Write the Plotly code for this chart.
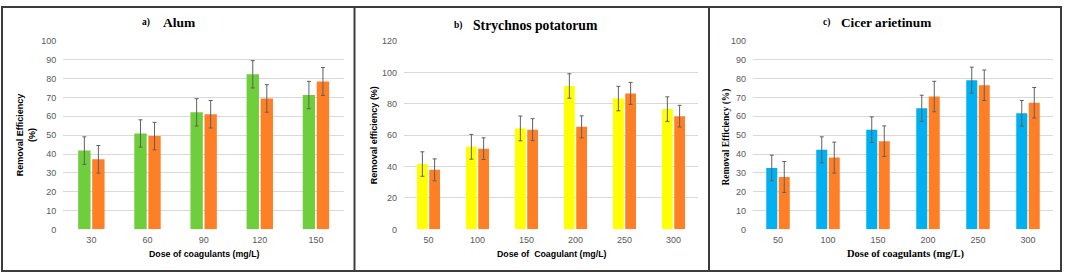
import plotly.graph_objects as go

W, H = 1065, 279

# ---------------- data ----------------
alum_doses = ["30", "60", "90", "120", "150"]
alum_a = [41.8, 50.9, 62.1, 82.3, 71.3]
alum_b = [37.2, 49.5, 61.1, 69.5, 78.5]
alum_a_err = [7.3, 7.25, 7.25, 7.25, 7.25]
alum_b_err = [7.3, 7.3, 7.3, 7.3, 7.4]

strych_doses = ["50", "100", "150", "200", "250", "300"]
strych_a = [41.6, 52.6, 64.3, 91.3, 83.3, 76.6]
strych_b = [37.9, 51.4, 63.5, 65.3, 86.6, 72.1]
strych_a_err = [7.8, 7.9, 7.9, 7.8, 7.8, 7.8]
strych_b_err = [7.0, 6.9, 7.0, 7.0, 7.0, 6.9]

cicer_doses = ["50", "100", "150", "200", "250", "300"]
cicer_a = [32.6, 42.2, 52.9, 64.3, 79.2, 61.6]
cicer_b = [27.8, 38.1, 46.8, 70.5, 76.5, 67.2]
cicer_a_err = [6.8, 6.9, 6.8, 6.9, 6.9, 6.8]
cicer_b_err = [8.2, 8.2, 8.1, 8.1, 8.1, 8.1]

GREEN = "#6ECE3C"
YELLOW = "#FFFF00"
BLUE = "#00B0F0"
ORANGE = "#FF7F27"
ERR = "#606060"
GRID = "#D9D9D9"
TICK = "#595959"

def px(x):
    return x / W

def py(y):
    return 1 - y / H

fig = go.Figure()

panels = [
    (alum_doses, alum_a, alum_b, alum_a_err, alum_b_err, GREEN, "x", "y"),
    (strych_doses, strych_a, strych_b, strych_a_err, strych_b_err, YELLOW, "x2", "y2"),
    (cicer_doses, cicer_a, cicer_b, cicer_a_err, cicer_b_err, BLUE, "x3", "y3"),
]

for doses, a, b, ea, eb, col, xa, ya in panels:
    for vals, errs, c in ((a, ea, col), (b, eb, ORANGE)):
        fig.add_trace(go.Bar(
            x=doses, y=vals, marker=dict(color=c, line=dict(width=0)),
            error_y=dict(type="data", array=errs, visible=True, color=ERR,
                         thickness=1, width=2),
            xaxis=xa, yaxis=ya, showlegend=False, hoverinfo="skip",
        ))

ydom = [py(232.7), py(37.3)]
tickfont = dict(family="Liberation Sans, Arial, sans-serif", size=9, color=TICK)

def xax(dom):
    return dict(domain=[px(dom[0]), px(dom[1])], type="category", showgrid=False,
                showline=False, zeroline=False, ticks="", tickfont=tickfont,
                ticklabelstandoff=4, fixedrange=True)

def yax(dom_anchor, rng, dt):
    return dict(domain=ydom, range=rng, dtick=dt, showgrid=True, gridcolor=GRID,
                gridwidth=1, zeroline=False, showline=False, ticks="",
                tickfont=tickfont, anchor=dom_anchor, ticklabelstandoff=6,
                fixedrange=True)

fig.update_layout(
    width=W, height=H, margin=dict(l=0, r=0, t=0, b=0),
    paper_bgcolor="white", plot_bgcolor="white",
    barmode="group", bargap=0.5, bargroupgap=0.12,
    xaxis=dict(**xax((63.3, 344)), anchor="y"),
    yaxis=yax("x", [0, 100], 10),
    xaxis2=dict(**xax((404, 698)), anchor="y2"),
    yaxis2=yax("x2", [0, 120], 20),
    xaxis3=dict(**xax((753, 1053)), anchor="y3"),
    yaxis3=yax("x3", [0, 100], 10),
)

SANS = "Liberation Sans, Arial, sans-serif"
SERIF = "Liberation Serif, Times New Roman, serif"

def ann(text, x, y, size, family, angle=0, color="black"):
    fig.add_annotation(text=text, x=px(x), y=py(y), xref="paper", yref="paper",
                       showarrow=False, xanchor="center", yanchor="middle",
                       textangle=angle, font=dict(family=family, size=size, color=color))

# titles
ann("<b>a)</b>", 145.5, 18.5, 9.5, SERIF)
ann("<b>Alum</b>", 179, 18, 13.5, SERIF)
ann("<b>b)</b>", 458, 21.5, 9.5, SERIF)
ann("<b>Strychnos potatorum</b>", 535, 21.5, 13.7, SERIF)
ann("<b>c)</b>", 826, 18.5, 9.5, SERIF)
ann("<b>Cicer arietinum</b>", 885.5, 18, 13.3, SERIF)

# axis titles
ann("<b>Removal Efficiency</b><br><b>(%)</b>", 26, 135, 9, SANS, angle=-90)
ann("<b>Dose of coagulants (mg/L)</b>", 204, 258, 8.8, SANS)
ann("<b>Removal efficiency (%)</b>", 374, 135, 9, SANS, angle=-90)
ann("<b>Dose of\u00a0 Coagulant (mg/L)</b>", 552, 258, 8.8, SANS)
ann("<b>Removal Efficiency (%)</b>", 727, 137.5, 9.5, SERIF, angle=-90)
ann("<b>Dose of coagulants (mg/L)</b>", 905, 258, 10.5, SERIF)

# frame
FRAME = "#3C3C3C"
fig.add_shape(type="rect", xref="paper", yref="paper",
              x0=px(2), x1=px(1061), y0=py(276), y1=py(2),
              line=dict(color=FRAME, width=2))
for xd in (354.5, 709):
    fig.add_shape(type="line", xref="paper", yref="paper",
                  x0=px(xd), x1=px(xd), y0=py(276), y1=py(2),
                  line=dict(color=FRAME, width=2))

fig.write_html("out.html", config={"displayModeBar": False},
               post_script="document.body.style.margin='0';"
                           "document.body.style.overflow='hidden';")
